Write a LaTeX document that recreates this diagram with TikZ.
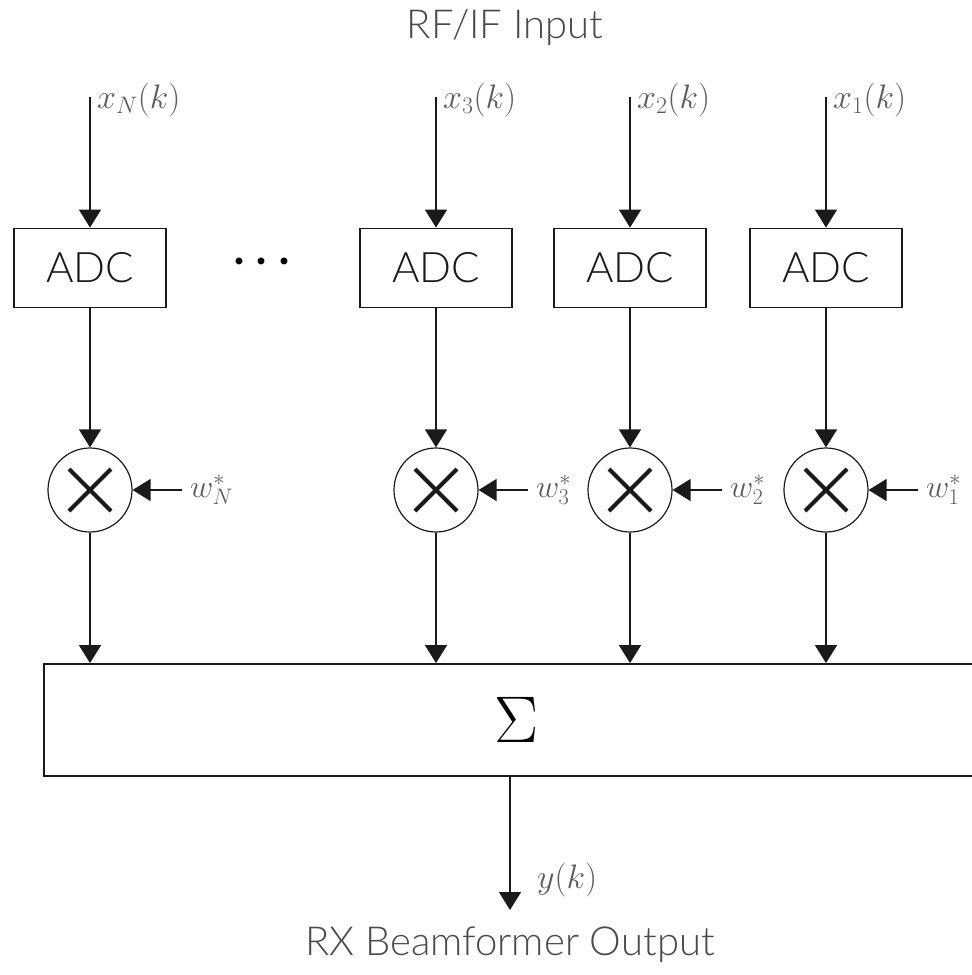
\RequirePackage{fix-cm}
\documentclass[tikz,border=0pt]{standalone}
\usepackage{fontspec}
\setmainfont{Lato Light}
\usepackage{tikz}
\usetikzlibrary{arrows.meta}
\definecolor{linegray}{HTML}{1A1A1A}
\definecolor{textgray}{HTML}{4A4A4A}
\definecolor{mathgray}{HTML}{5C5C5C}

\begin{document}
\begin{tikzpicture}[
  x=1pt, y=-1pt,
  sig/.style={-{Triangle[length=18pt,width=22pt]}, line width=1.4pt, draw=linegray},
  adc/.style={
    rectangle,
    draw=linegray,
    line width=1.8pt,
    minimum width=152pt,
    minimum height=79pt,
    align=center,
    text=linegray,
    font=\fontsize{42}{46}\selectfont
  },
  mixer/.style={
    circle,
    draw=linegray,
    line width=1.2pt,
    minimum size=84pt,
    inner sep=0pt,
    path picture={
      \draw[line width=4pt, linegray]
        ([shift={(-21pt,-21pt)}]path picture bounding box.center) --
        ([shift={(21pt,21pt)}]path picture bounding box.center)
        ([shift={(-21pt,21pt)}]path picture bounding box.center) --
        ([shift={(21pt,-21pt)}]path picture bounding box.center);
    }
  },
  summer/.style={
    rectangle,
    draw=linegray,
    line width=1.8pt,
    minimum width=946pt,
    minimum height=112pt,
    font=\fontsize{66}{72}\selectfont
  },
  caption/.style={text=textgray, font=\fontsize{40}{44}\selectfont},
  siglabel/.style={anchor=base west, inner sep=0pt, text=mathgray, font=\fontsize{34}{38}\selectfont},
  wlabel/.style={anchor=base west, inner sep=0pt, text=mathgray, font=\fontsize{32}{36}\selectfont}
]
\useasboundingbox (0,0) rectangle (972,975);

% Title
\node[caption] (title) at (505,27) {RF/IF Input};

% Inputs
\coordinate (inN) at (90,97);
\coordinate (in3) at (436,97);
\coordinate (in2) at (630,97);
\coordinate (in1) at (826,97);
\node[siglabel] at (97,108) {$x_N(k)$};
\node[siglabel] at (443,108) {$x_3(k)$};
\node[siglabel] at (637,108) {$x_2(k)$};
\node[siglabel] at (833,108) {$x_1(k)$};

% ADC row
\node[adc] (adcN) at (90,268) {ADC};
\node[adc] (adc3) at (436,268) {ADC};
\node[adc] (adc2) at (630,268) {ADC};
\node[adc] (adc1) at (826,268) {ADC};
\node[font=\fontsize{44}{48}\selectfont\boldmath] (dots) at (262,262) {$\cdots$};

% Mixer row
\node[mixer] (mixN) at (90,490) {};
\node[mixer] (mix3) at (436,490) {};
\node[mixer] (mix2) at (630,490) {};
\node[mixer] (mix1) at (826,490) {};
\coordinate (wN) at (182,490);
\coordinate (w3) at (528,490);
\coordinate (w2) at (722,490);
\coordinate (w1) at (918,490);
\node[wlabel] at (190,497) {$w_N^*$};
\node[wlabel] at (536,497) {$w_3^*$};
\node[wlabel] at (730,497) {$w_2^*$};
\node[wlabel] at (926,497) {$w_1^*$};

% Summation
\node[summer] (sum) at (517,720) {$\Sigma$};
\coordinate (out) at (510,910);
\node[siglabel] at (537,888) {$y(k)$};
\node[caption] (output) at (510,945) {RX Beamformer Output};

% Connections
\draw[sig] (inN) -- (adcN);
\draw[sig] (in3) -- (adc3);
\draw[sig] (in2) -- (adc2);
\draw[sig] (in1) -- (adc1);
\draw[sig] (adcN) -- (mixN);
\draw[sig] (adc3) -- (mix3);
\draw[sig] (adc2) -- (mix2);
\draw[sig] (adc1) -- (mix1);
\draw[sig] (wN) -- (mixN);
\draw[sig] (w3) -- (mix3);
\draw[sig] (w2) -- (mix2);
\draw[sig] (w1) -- (mix1);
\draw[sig] (mixN) -- (mixN |- sum.north);
\draw[sig] (mix3) -- (mix3 |- sum.north);
\draw[sig] (mix2) -- (mix2 |- sum.north);
\draw[sig] (mix1) -- (mix1 |- sum.north);
\draw[sig] (sum.south -| out) -- (out);

\end{tikzpicture}
\end{document}
